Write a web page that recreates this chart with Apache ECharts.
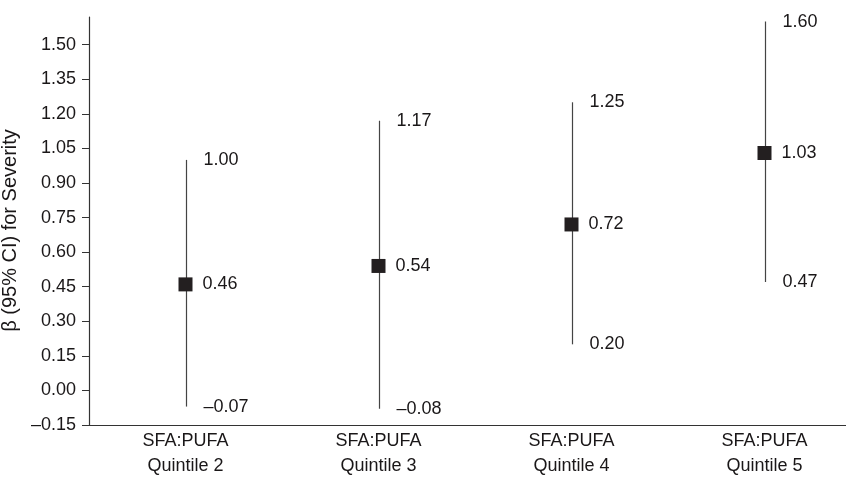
<!DOCTYPE html>
<html>
<head>
<meta charset="utf-8">
<script src="https://cdn.jsdelivr.net/npm/echarts@6/dist/echarts.min.js"></script>
<style>html,body{margin:0;padding:0;background:#fff;}#c{width:846px;height:479px;}</style>
</head>
<body>
<div id="c"></div>
<script>
var categories = ['SFA:PUFA\nQuintile 2', 'SFA:PUFA\nQuintile 3', 'SFA:PUFA\nQuintile 4', 'SFA:PUFA\nQuintile 5'];
var estimates = [0.46, 0.54, 0.72, 1.03];
var lowerCI = [-0.07, -0.08, 0.20, 0.47];
var upperCI = [1.00, 1.17, 1.25, 1.60];
var yTicks = [-0.15, 0.00, 0.15, 0.30, 0.45, 0.60, 0.75, 0.90, 1.05, 1.20, 1.35, 1.50];
var yAxisName = 'β (95% CI) for Severity';

function fmt(v) {
  var s = Math.abs(v).toFixed(2);
  return v < 0 ? '\u2013' + s : s;
}
var textCol = '#1a1718';
var font = 'Liberation Sans, Arial, sans-serif';
var fs = 18;

function labelCfg(dist) {
  return {show: true, position: 'right', distance: dist, color: textCol, opacity: 1, fontSize: fs, fontFamily: font,
    formatter: function (p) { return fmt(p.value[1]); }};
}

var chart = echarts.init(document.getElementById('c'), null, {renderer: 'canvas'});
chart.setOption({
  animation: false,
  grid: {left: 89, top: 17, width: 772, height: 408, containLabel: false, outerBoundsMode: 'none'},
  xAxis: {
    type: 'category',
    data: categories,
    boundaryGap: true,
    axisLine: {show: true, onZero: false, lineStyle: {color: '#333', width: 1.2}},
    axisTick: {show: false},
    axisLabel: {color: textCol, fontSize: fs, fontFamily: font, lineHeight: 25, margin: 4}
  },
  yAxis: {
    type: 'value',
    min: -0.15,
    max: 1.62,
    interval: 0.15,
    name: yAxisName,
    nameLocation: 'middle',
    nameGap: 68,
    nameTextStyle: {color: textCol, fontSize: 20, fontFamily: font, padding: [0, 19, 0, 0]},
    splitLine: {show: false},
    axisLine: {show: true, onZero: false, lineStyle: {color: '#333', width: 1.2}},
    axisTick: {show: true, length: 7, lineStyle: {color: '#333'}, customValues: yTicks},
    axisLabel: {color: textCol, fontSize: fs, fontFamily: font, margin: 13, customValues: yTicks,
      formatter: function (v) { return fmt(v); }}
  },
  series: [
    {
      type: 'custom',
      data: categories.map(function (c, i) { return [i, lowerCI[i], upperCI[i]]; }),
      renderItem: function (params, api) {
        var p1 = api.coord([api.value(0), api.value(1)]);
        var p2 = api.coord([api.value(0), api.value(2)]);
        return {
          type: 'line',
          shape: {x1: Math.round(p1[0]) + 0.5, y1: p1[1], x2: Math.round(p2[0]) + 0.5, y2: p2[1]},
          style: {stroke: '#444', lineWidth: 1.2}
        };
      },
      z: 1
    },
    {
      type: 'scatter',
      data: estimates.map(function (v, i) { return [i, v]; }),
      symbol: 'rect',
      symbolSize: 14,
      itemStyle: {color: '#231f20', opacity: 1},
      label: labelCfg(10),
      z: 3
    },
    {
      type: 'scatter',
      data: upperCI.map(function (v, i) { return [i, v]; }),
      symbolSize: 0,
      itemStyle: {opacity: 1},
      label: labelCfg(18),
      z: 2
    },
    {
      type: 'scatter',
      data: lowerCI.map(function (v, i) { return [i, v]; }),
      symbolSize: 0,
      itemStyle: {opacity: 1},
      label: labelCfg(18),
      z: 2
    }
  ]
});
</script>
</body>
</html>
